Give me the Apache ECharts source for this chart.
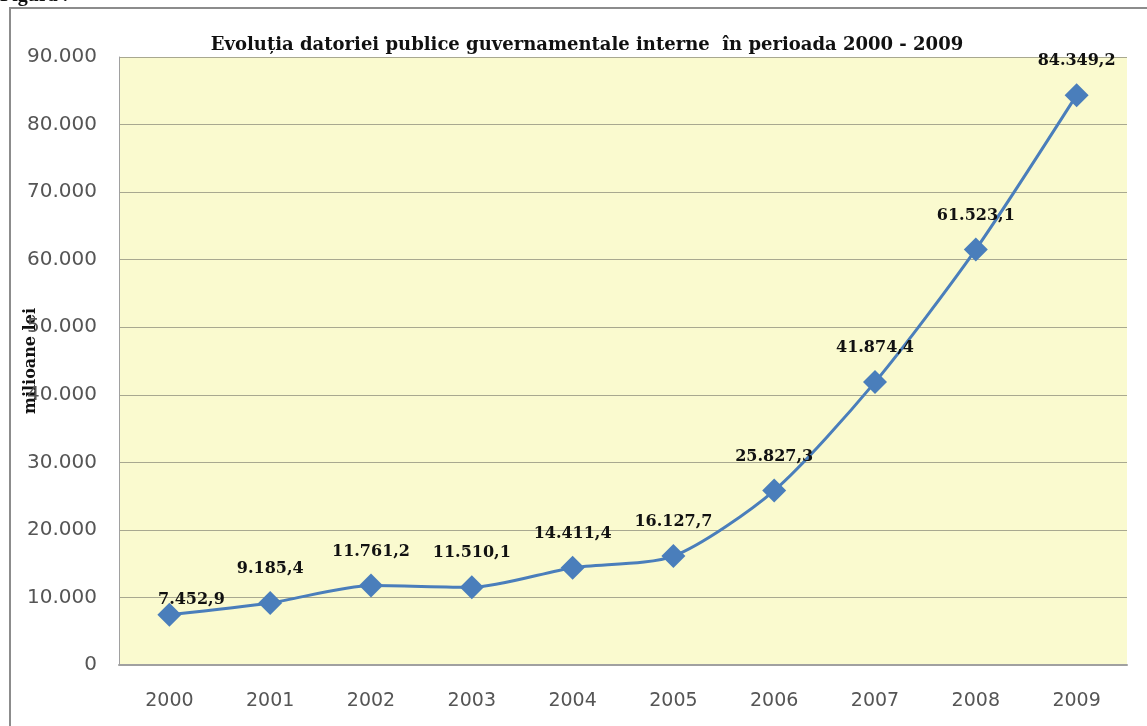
<!DOCTYPE html>
<html>
<head>
<meta charset="utf-8">
<script src="https://cdn.jsdelivr.net/npm/echarts@6/dist/echarts.min.js"></script>
<style>
	html, body { margin: 0; padding: 0; background: #fff; }
	#chart { width: 1147px; height: 726px; }
</style>
</head>
<body>
<div id="chart"></div>
<script>
// date: datoria publica interna, milioane lei
const years = ["2000", "2001", "2002", "2003", "2004", "2005", "2006", "2007", "2008", "2009"];
const datorie = [7452.9, 9185.4, 11761.2, 11510.1, 14411.4, 16127.7, 25827.3, 41874.4, 61523.1, 84349.2];
const yMin = 0;
const yMax = 90000;
const yStep = 10000;

// format romanesc: punct la mii, virgula la zecimale
function fmtRo(v, dec) {
	const parts = v.toFixed(dec).split(".");
	parts[0] = parts[0].replace(/\B(?=(\d{3})+(?!\d))/g, ".");
	return parts.length > 1 ? parts[0] + "," + parts[1] : parts[0];
}

const seriesData = datorie.map((v, i) => {
	if (i === 0) {
		// eticheta primului punct sta mai jos, peste linie
		return { value: v, label: { offset: [22, 19] } };
	}
	return v;
});

const myChart = echarts.init(document.getElementById("chart"), null, { renderer: "canvas" });
const option = {
	animation: false,
	backgroundColor: "#ffffff",
	title: {
		text: "Evoluția datoriei publice guvernamentale interne  în perioada 2000 - 2009",
		left: 582,
		top: 31,
		textAlign: "center",
		textStyle: {
			fontFamily: "DejaVu Serif",
			fontWeight: "bold",
			fontSize: 18,
			color: "#111"
		}
	},
	graphic: [
		{
			type: "rect",
			shape: { x: 10, y: 8, width: 1160, height: 740 },
			style: { fill: "none", stroke: "#8c8c8c", lineWidth: 2 },
			z: 0
		},
		{
			type: "text",
			left: 0,
			top: -14,
			style: { text: "Figura .", fontFamily: "Liberation Serif", fontWeight: "bold", fontSize: 20, fill: "#111" }
		}
	],
	grid: {
		left: 119,
		right: 20,
		top: 57,
		bottom: 61,
		show: true,
		backgroundColor: "#fafacf",
		borderWidth: 0
	},
	xAxis: {
		type: "category",
		data: years,
		boundaryGap: true,
		axisLine: { show: true, lineStyle: { color: "#a0a0a0", width: 2 } },
		axisTick: { show: false },
		axisLabel: {
			margin: 27,
			fontFamily: "DejaVu Sans",
			fontSize: 19,
			color: "#555"
		},
		splitLine: { show: false }
	},
	yAxis: {
		type: "value",
		min: yMin,
		max: yMax,
		interval: yStep,
		name: "milioane lei",
		nameLocation: "middle",
		nameRotate: 90,
		nameGap: 80,
		nameMoveOverlap: false,
		nameTextStyle: {
			fontFamily: "DejaVu Serif",
			fontWeight: "bold",
			fontSize: 16,
			color: "#111"
		},
		axisLine: { show: true, lineStyle: { color: "#a0a0a0", width: 1 } },
		axisTick: { show: false },
		axisLabel: {
			margin: 22,
			fontFamily: "DejaVu Sans",
			fontSize: 20,
			color: "#555",
			formatter: v => fmtRo(v, 0)
		},
		splitLine: { show: true, lineStyle: { color: "#a8a890", width: 1 } }
	},
	series: [
		{
			type: "line",
			data: seriesData,
			smooth: 0.25,
			symbol: "diamond",
			symbolSize: 24,
			lineStyle: { color: "#4a7ebb", width: 3 },
			itemStyle: { color: "#4a7ebb" },
			label: {
				show: true,
				position: "top",
				distance: 14,
				fontFamily: "DejaVu Serif",
				fontWeight: "bold",
				fontSize: 16,
				color: "#111",
				formatter: p => fmtRo(p.value, 1)
			}
		}
	]
};
myChart.setOption(option);
</script>
</body>
</html>
